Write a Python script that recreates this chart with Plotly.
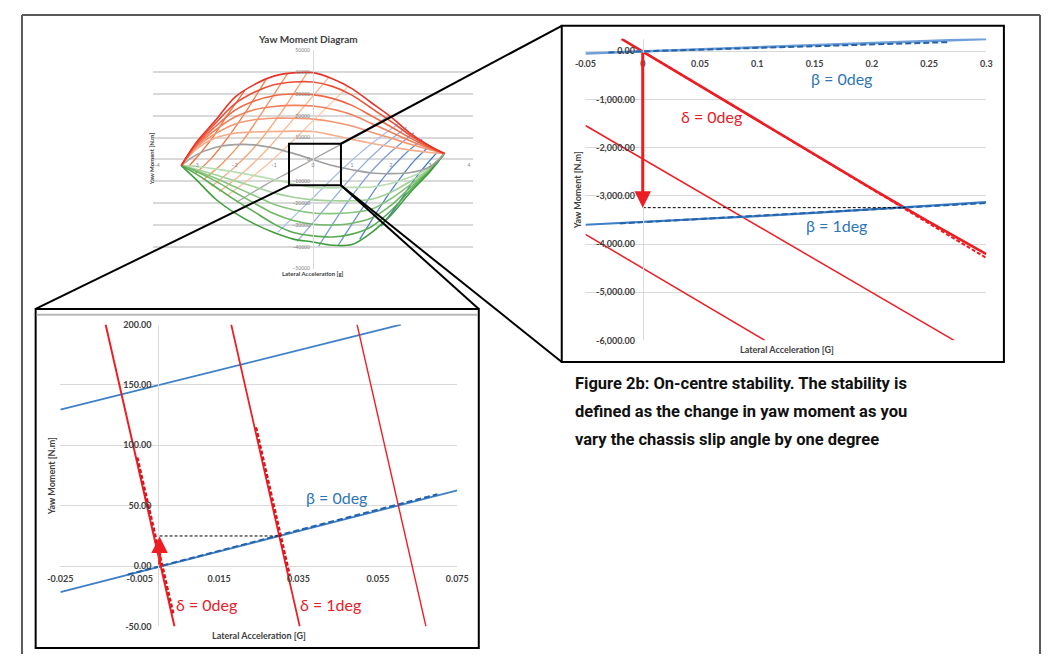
"""
Yaw moment diagram with two zoomed views of the on-centre region.
Figure 2b: on-centre stability.
"""
import plotly.graph_objects as go

# ---- overview: yaw moment diagram (lateral acceleration [g] / yaw moment [N.m]) ----
ymd_x = [-3.37, -3.0, -2.5, -2.0, -1.5, -1.0, -0.5, 0.0, 0.5, 1.0, 1.5, 2.0, 2.5, 3.0, 3.37]
ymd_red1 = [-2800, 7500, 17800, 28500, 34300, 38200, 39700, 39800, 37000, 32500, 26000, 19500, 12000, 6200, 2700]
ymd_red2 = [-2800, 7000, 16500, 25500, 30800, 34200, 35500, 35500, 33500, 29500, 23500, 17500, 11000, 5800, 2700]
ymd_red3 = [-2800, 6500, 15000, 22500, 26800, 29200, 30000, 29700, 28000, 24800, 20000, 15000, 9800, 5400, 2700]
ymd_red4 = [-2800, 6000, 13500, 19500, 22800, 24300, 24800, 24500, 23000, 20500, 16500, 12500, 8500, 5000, 2700]
ymd_red5 = [-2800, 5300, 11800, 16200, 18200, 18900, 18900, 18500, 17300, 15300, 12500, 9800, 7000, 4500, 2700]
ymd_red6 = [-2800, 4500, 9800, 12000, 12600, 12800, 13000, 12800, 11200, 9200, 7400, 5800, 4300, 3200, 2700]
ymd_grey = [-2800, 2000, 5500, 6800, 6700, 5200, 2800, 0, -2800, -4700, -6200, -6500, -6000, -3300, 2700]
ymd_green6 = [-2800, -3200, -4300, -5800, -7400, -9200, -11200, -12800, -13000, -12800, -12600, -11000, -8000, -3800, 2700]
ymd_green5 = [-2800, -4500, -7000, -9800, -12500, -15300, -17300, -18500, -18900, -18900, -18200, -15000, -10000, -4300, 2700]
ymd_green4 = [-2800, -5000, -8500, -12500, -16500, -20500, -23000, -24500, -24800, -24300, -22800, -18000, -11500, -4700, 2700]
ymd_green3 = [-2800, -5400, -9800, -15000, -20000, -24800, -28000, -29700, -30000, -29200, -26800, -21000, -12800, -5000, 2700]
ymd_green2 = [-2800, -6500, -12500, -18500, -24000, -29500, -33500, -35000, -35500, -34200, -30800, -23500, -14000, -5200, 2700]
ymd_green1 = [-2800, -9000, -18000, -24500, -29500, -33500, -36500, -37800, -39300, -39000, -33500, -25500, -15000, -5600, 2700]

# constant-slip lines crossing the bell curves
ymd_grey_diag_x = [-1.95, -1.2, -0.6, 0.0, 0.6, 1.2, 1.95]
ymd_grey_diag_y = [-19500, -11500, -5800, 0, 5800, 11500, 20000]
ymd_orange1_x = [-2.2, -1.45, -0.75, 0.05, 0.9]
ymd_orange1_y = [-16500, -6500, 4500, 18500, 33400]
ymd_orange2_x = [-2.4, -1.75, -1.15, -0.45, 0.4]
ymd_orange2_y = [-14800, -5500, 5000, 19500, 37500]
ymd_orange3_x = [-2.59, -2.0, -1.45, -0.85, -0.15]
ymd_orange3_y = [-12300, -3500, 6500, 20500, 39700]
ymd_orange4_x = [-2.8, -2.3, -1.8, -1.3, -0.65]
ymd_orange4_y = [-9300, -1500, 8500, 21500, 39300]
ymd_orange5_x = [-3.0, -2.6, -2.2, -1.75, -1.2]
ymd_orange5_y = [-6300, 500, 9500, 21000, 36600]
ymd_orange6_x = [-3.2, -2.9, -2.55, -2.2, -1.75]
ymd_orange6_y = [-3600, 2500, 10500, 20000, 31400]
ymd_blue1_x = [-0.9, -0.05, 0.75, 1.45, 2.2]
ymd_blue1_y = [-33400, -18500, -4500, 6500, 16500]
ymd_blue2_x = [-0.4, 0.45, 1.15, 1.75, 2.4]
ymd_blue2_y = [-37500, -19500, -5000, 5500, 14800]
ymd_blue3_x = [0.15, 0.85, 1.45, 2.0, 2.59]
ymd_blue3_y = [-39700, -20500, -6500, 3500, 12300]
ymd_blue4_x = [0.65, 1.3, 1.8, 2.3, 2.8]
ymd_blue4_y = [-39300, -21500, -8500, 1500, 9300]
ymd_blue5_x = [1.2, 1.75, 2.2, 2.6, 3.0]
ymd_blue5_y = [-36600, -21000, -9500, -500, 6300]
ymd_blue6_x = [1.75, 2.2, 2.55, 2.9, 3.2]
ymd_blue6_y = [-30500, -20000, -10500, -2500, 3600]
ymd_xticks = [-4, -3, -2, -1, 0, 1, 2, 3, 4]
ymd_zoom_box_x = [-0.61, 0.72]
ymd_zoom_box_y = [-11800, 7200]

# ---- zoom A (top right) ----
a_beta0_x = [-0.05, 0.0, 0.05, 0.1, 0.15, 0.2, 0.25, 0.3]
a_beta0_y = [-45, 0, 40, 82, 125, 170, 215, 258]
a_beta0_fit_x = [-0.03, 0.268]
a_beta0_fit_y = [-22, 192]
a_beta1_x = [-0.05, 0.0, 0.05, 0.1, 0.15, 0.2, 0.25, 0.3]
a_beta1_y = [-3600, -3545, -3485, -3420, -3355, -3285, -3210, -3130]
a_beta1_fit_x = [-0.02, 0.3]
a_beta1_fit_y = [-3572, -3150]
a_delta0_x = [-0.0185, 0.0, 0.05, 0.1, 0.15, 0.2, 0.25, 0.3]
a_delta0_y = [258, -5, -720, -1430, -2140, -2850, -3540, -4210]
a_delta0_fit_x = [0.0, 0.3]
a_delta0_fit_y = [0, -4290]
a_delta_m1_x = [-0.05, 0.2718]
a_delta_m1_y = [-1540, -6000]
a_delta_m2_x = [-0.05, 0.1065]
a_delta_m2_y = [-3800, -6000]
a_guide_x = [0.0, 0.23]
a_guide_y = [-3245, -3245]
a_xticks = [-0.05, 0, 0.05, 0.1, 0.15, 0.2, 0.25, 0.3]
a_xtick_text = ['-0.05', '0', '0.05', '0.1', '0.15', '0.2', '0.25', '0.3']
a_yticks = [0, -1000, -2000, -3000, -4000, -5000, -6000]
a_ytick_text = ['0.00', '-1,000.00', '-2,000.00', '-3,000.00', '-4,000.00', '-5,000.00', '-6,000.00']

# ---- zoom B (bottom left) ----
b_beta0_x = [-0.025, 0.075]
b_beta0_y = [-21.6, 62.6]
b_beta0_fit_x = [-0.008, 0.07]
b_beta0_fit_y = [-7, 59.5]
b_beta_m1_x = [-0.025, 0.0608]
b_beta_m1_y = [129.5, 200]
b_delta0_x = [-0.01358, 0.00375]
b_delta0_y = [200, -50]
b_delta0_fit_x = [-0.0056, 0.0035]
b_delta0_fit_y = [90, -40]
b_delta1_x = [0.01805, 0.0353]
b_delta1_y = [200, -50]
b_delta1_fit_x = [0.0243, 0.0328]
b_delta1_fit_y = [115, -8]
b_delta2_x = [0.04975, 0.0671]
b_delta2_y = [200, -50]
b_guide_x = [0.0, 0.0305]
b_guide_y = [24.9, 24.9]
b_xticks = [-0.025, -0.005, 0.015, 0.035, 0.055, 0.075]
b_xtick_text = ['-0.025', '-0.005', '0.015', '0.035', '0.055', '0.075']
b_yticks = [-50, 0, 50, 100, 150, 200]
b_ytick_text = ['-50.00', '0.00', '50.00', '100.00', '150.00', '200.00']

caption_lines = ['Figure 2b: On-centre stability. The stability is',
                 'defined as the change in yaw moment as you',
                 'vary the chassis slip angle by one degree']

# the page keeps its 8px body margin, so the figure is drawn 16px smaller
# and every pixel position below is measured on the full 1061x662 picture
PAGE_MARGIN = 8
W, H = 1061 - 2 * PAGE_MARGIN, 662 - 2 * PAGE_MARGIN
FONT = 'Lato'
RED = '#ee1d23'
BLUE = '#3e7fc6'
BLUE_DASH = '#2563a8'
GRID = '#d9d9d9'
TICK = '#404040'
CLEAR = 'rgba(0,0,0,0)'


def px(x):
    """ picture pixel x -> paper x """
    return (x - PAGE_MARGIN) / W


def py(y):
    """ picture pixel y -> paper y """
    return 1 - (y - PAGE_MARGIN) / H


def add_line(fig, x, y, color, width, axes, dash='solid', spline=False):
    fig.add_trace(go.Scatter(x=x, y=y, mode='lines', xaxis=axes[0], yaxis=axes[1],
                             line=dict(color=color, width=width, dash=dash,
                                       shape='spline' if spline else 'linear',
                                       smoothing=0.9 if spline else None),
                             hoverinfo='skip', showlegend=False))


def label(text, x, y, size, color, bold=False, angle=0, family=FONT, xanchor='center'):
    return dict(text=text, x=px(x), y=py(y), xref='paper', yref='paper', showarrow=False,
                xanchor=xanchor, yanchor='middle', textangle=angle,
                font=dict(family=family, size=size, color=color,
                          weight='bold' if bold else 'normal'))


def arrow(x, y, ax, ay, axes):
    return dict(x=x, y=y, ax=ax, ay=ay, xref=axes[0], yref=axes[1],
                axref=axes[0], ayref=axes[1], text='', showarrow=True,
                arrowhead=2, arrowsize=1.1, arrowwidth=3, arrowcolor=RED, standoff=0)


def overview_traces(fig):
    """ small yaw moment diagram """
    ax = ('x', 'y')
    diags = [(ymd_orange6_x, ymd_orange6_y, '#f06e38'), (ymd_orange5_x, ymd_orange5_y, '#f3804a'),
             (ymd_orange4_x, ymd_orange4_y, '#f5925e'), (ymd_orange3_x, ymd_orange3_y, '#f7a474'),
             (ymd_orange2_x, ymd_orange2_y, '#f9b68c'), (ymd_orange1_x, ymd_orange1_y, '#fbc4a2'),
             (ymd_grey_diag_x, ymd_grey_diag_y, '#a6a6a6'),
             (ymd_blue1_x, ymd_blue1_y, '#a9bfe8'), (ymd_blue2_x, ymd_blue2_y, '#93aee2'),
             (ymd_blue3_x, ymd_blue3_y, '#7c9ddb'), (ymd_blue4_x, ymd_blue4_y, '#6590d4'),
             (ymd_blue5_x, ymd_blue5_y, '#4f82cc'), (ymd_blue6_x, ymd_blue6_y, '#3874c3')]
    for x, y, c in diags:
        add_line(fig, x, y, c, 1.3, ax, spline=True)
    bells = [(ymd_green6, '#b7ddb0'), (ymd_green5, '#a0d197'), (ymd_green4, '#88c57e'),
             (ymd_green3, '#70b866'), (ymd_green2, '#58ab50'), (ymd_green1, '#3f9e3d'),
             (ymd_grey, '#a0a0a0'),
             (ymd_red6, '#f6ad8c'), (ymd_red5, '#f49672'), (ymd_red4, '#f17f5a'),
             (ymd_red3, '#ee6846'), (ymd_red2, '#eb5037'), (ymd_red1, '#e8352b')]
    for y, c in bells:
        add_line(fig, ymd_x, y, c, 1.6, ax, spline=True)


def zoom_a_traces(fig):
    ax = ('x2', 'y2')
    add_line(fig, a_delta_m1_x, a_delta_m1_y, RED, 1.5, ax)
    add_line(fig, a_delta_m2_x, a_delta_m2_y, RED, 1.5, ax)
    add_line(fig, a_delta0_fit_x, a_delta0_fit_y, RED, 2, ax, dash='4px,2px')
    add_line(fig, a_delta0_x, a_delta0_y, RED, 2.6, ax)
    add_line(fig, a_beta0_x, a_beta0_y, '#6f9fd8', 2.5, ax)
    add_line(fig, a_beta0_fit_x, a_beta0_fit_y, BLUE_DASH, 2, ax, dash='6px,3px')
    add_line(fig, a_beta1_x, a_beta1_y, BLUE, 2.2, ax)
    add_line(fig, a_beta1_fit_x, a_beta1_fit_y, BLUE_DASH, 2, ax, dash='6px,3px')
    add_line(fig, a_guide_x, a_guide_y, 'black', 1, ax, dash='3px,2px')


def zoom_b_traces(fig):
    ax = ('x3', 'y3')
    add_line(fig, b_beta_m1_x, b_beta_m1_y, BLUE, 1.8, ax)
    add_line(fig, b_beta0_x, b_beta0_y, BLUE, 1.8, ax)
    add_line(fig, b_beta0_fit_x, b_beta0_fit_y, BLUE_DASH, 2, ax, dash='6px,3px')
    add_line(fig, b_delta0_x, b_delta0_y, RED, 2, ax)
    add_line(fig, b_delta0_fit_x, b_delta0_fit_y, '#d9141b', 2.4, ax, dash='4px,2px')
    add_line(fig, b_delta1_x, b_delta1_y, RED, 1.8, ax)
    add_line(fig, b_delta1_fit_x, b_delta1_fit_y, '#d9141b', 2.4, ax, dash='4px,2px')
    add_line(fig, b_delta2_x, b_delta2_y, RED, 1.4, ax)
    add_line(fig, b_guide_x, b_guide_y, 'black', 1, ax, dash='3px,2px')


def main():
    fig = go.Figure()
    overview_traces(fig)
    zoom_a_traces(fig)
    zoom_b_traces(fig)

    tick = dict(family=FONT, size=9, color=TICK, weight='bold')
    fig.update_layout(
        width=W, height=H, margin=dict(l=0, r=0, t=0, b=0), autosize=False,
        paper_bgcolor='white', plot_bgcolor='white', showlegend=False,
        modebar=dict(bgcolor=CLEAR, color=CLEAR, activecolor=CLEAR),
        # overview axes
        xaxis=dict(domain=[px(143), px(471)], range=[-4.1, 4.1], anchor='free', position=py(156),
                   tickvals=ymd_xticks, showgrid=False, zeroline=False, showline=False,
                   tickfont=dict(family=FONT, size=5, color='#808080'), ticklabelstandoff=2),
        yaxis=dict(domain=[py(267), py(45)], range=[-50000, 50000], anchor='free', position=px(307),
                   dtick=10000, tickformat='d', showgrid=True, gridcolor=GRID, gridwidth=1.5,
                   zeroline=False, showline=True, linecolor=GRID,
                   tickfont=dict(family=FONT, size=5, color='#808080'), ticklabelstandoff=2),
        # zoom A axes
        xaxis2=dict(domain=[px(586.3), px(997)], range=[-0.05, 0.3], anchor='free', position=py(46),
                    tickvals=a_xticks, ticktext=a_xtick_text, showgrid=False, zeroline=False,
                    showline=False, tickfont=tick, ticklabelstandoff=6),
        yaxis2=dict(domain=[py(340), py(33)], range=[-6000, 265], anchor='free', position=px(645),
                    tickvals=a_yticks, ticktext=a_ytick_text, showgrid=True, gridcolor=GRID,
                    zeroline=False, showline=True, linecolor=GRID, tickfont=tick,
                    ticklabelstandoff=6),
        # zoom B axes
        xaxis3=dict(domain=[px(48.3), px(455)], range=[-0.025, 0.075], anchor='free',
                    position=py(569.5), tickvals=b_xticks, ticktext=b_xtick_text, showgrid=False,
                    zeroline=False, showline=False, tickfont=tick, ticklabelstandoff=6),
        yaxis3=dict(domain=[py(631), py(324)], range=[-50, 200], anchor='free', position=px(148.7),
                    tickvals=b_yticks, ticktext=b_ytick_text, showgrid=True, gridcolor=GRID,
                    zeroline=False, showline=True, linecolor=GRID, tickfont=tick,
                    ticklabelstandoff=5),
    )

    shapes = []
    frame = dict(color='#5a5a5a', width=2)
    # outer frame (top, left, right)
    shapes.append(dict(type='line', xref='paper', yref='paper', x0=px(9), y0=py(9),
                       x1=px(1052), y1=py(9), line=frame))
    shapes.append(dict(type='line', xref='paper', yref='paper', x0=px(9), y0=py(9),
                       x1=px(9), y1=py(662), line=frame))
    shapes.append(dict(type='line', xref='paper', yref='paper', x0=px(1052), y0=py(9),
                       x1=px(1052), y1=py(662), line=frame))
    # zoom panels
    box = dict(color='black', width=2)
    shapes.append(dict(type='rect', xref='paper', yref='paper', x0=px(562), y0=py(20),
                       x1=px(1015), y1=py(362), line=box))
    shapes.append(dict(type='rect', xref='paper', yref='paper', x0=px(23), y0=py(308),
                       x1=px(477), y1=py(653), line=box))
    shapes.append(dict(type='line', xref='paper', yref='paper', x0=px(24), y0=py(314),
                       x1=px(476), y1=py(314), line=dict(color='#b8b8b8', width=2)))
    # zoom box on the overview
    shapes.append(dict(type='rect', xref='x', yref='y', x0=ymd_zoom_box_x[0], y0=ymd_zoom_box_y[0],
                       x1=ymd_zoom_box_x[1], y1=ymd_zoom_box_y[1], line=box))
    # callout lines
    for x0, y0, x1, y1 in [(335.7, 140, 562, 20), (282.7, 182.3, 23, 308),
                           (335.7, 182.3, 477, 308), (335.7, 182.3, 562, 362)]:
        shapes.append(dict(type='line', xref='paper', yref='paper', x0=px(x0), y0=py(y0),
                           x1=px(x1), y1=py(y1), line=box))
    fig.update_layout(shapes=shapes)

    ann = []
    # overview texts
    ann.append(label('Yaw Moment Diagram', 302, 33, 10, TICK, bold=True))
    ann.append(label('Lateral Acceleration [g]', 307, 272, 6, TICK, bold=True))
    ann.append(label('Yaw Moment [N.m]', 142, 156, 6, TICK, bold=True, angle=-90))
    # zoom A texts
    ann.append(label('Lateral Acceleration [G]', 793, 349, 9, TICK, bold=True))
    ann.append(label('Yaw Moment [N.m]', 579, 187, 9, TICK, bold=True, angle=-90))
    ann.append(label('β = 0deg', 849, 74, 16, '#2e75b6'))
    ann.append(label('δ = 0deg', 715, 112, 16, '#e8202a'))
    ann.append(label('β = 1deg', 843, 223, 16, '#2e75b6'))
    ann.append(arrow(0, a_guide_y[0], 0, 0, ('x2', 'y2')))
    # zoom B texts
    ann.append(label('Lateral Acceleration [G]', 252, 640, 9, TICK, bold=True))
    ann.append(label('Yaw Moment [N.m]', 40, 478, 9, TICK, bold=True, angle=-90))
    ann.append(label('β = 0deg', 331, 500, 16, '#2e75b6'))
    ann.append(label('δ = 0deg', 198, 609, 16, '#e8202a'))
    ann.append(label('δ = 1deg', 325, 609, 16, '#e8202a'))
    ann.append(arrow(0, b_guide_y[0] - 0.5, 0, 0, ('x3', 'y3')))
    # caption
    for i, line in enumerate(caption_lines):
        ann.append(label(line, 574, 383.5 + 28.5 * i, 16.5, '#111111', bold=True,
                         family='Roboto', xanchor='left'))
    fig.update_layout(annotations=ann)

    fig.write_html("out.html")


if __name__ == "__main__":
    main()
